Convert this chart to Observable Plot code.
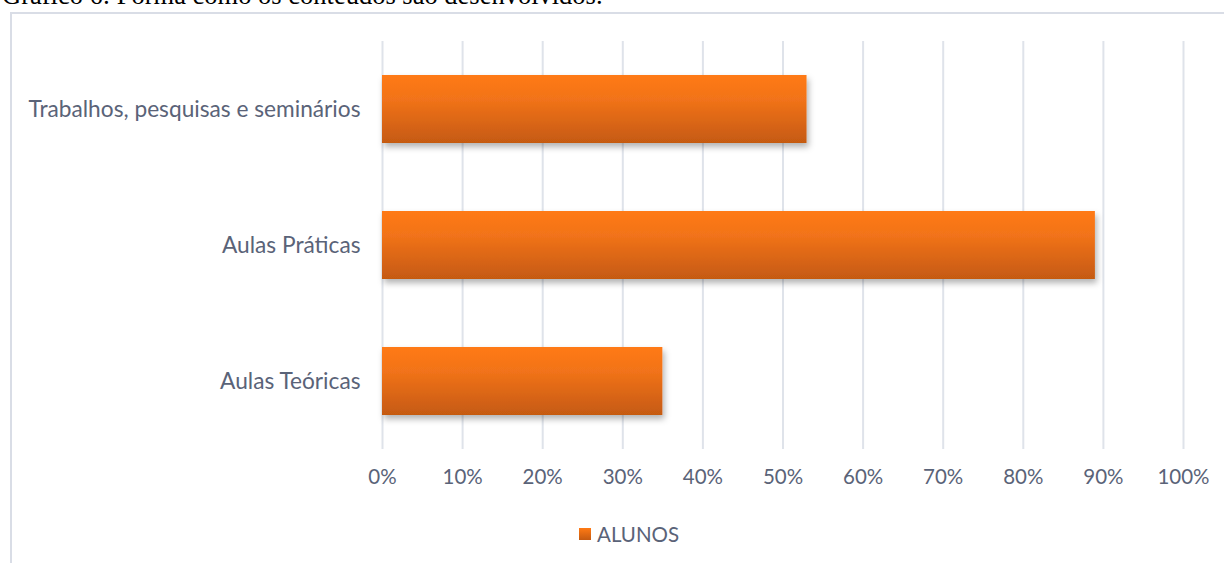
<!DOCTYPE html>
<html>
<head>
<meta charset="utf-8">
<script src="https://cdn.jsdelivr.net/npm/d3@7"></script>
<script src="https://cdn.jsdelivr.net/npm/@observablehq/plot@0.6"></script>
<style>
  html, body { margin: 0; padding: 0; background: #fff; overflow: hidden; }
  body { width: 1224px; height: 563px; position: relative; }
  #title { position: absolute; left: 2px; top: -18px; font-family: "Liberation Serif", "Times New Roman", serif; font-size: 26.5px; color: #000; white-space: nowrap; line-height: 27px; }
  #frame { position: absolute; left: 10px; top: 12px; width: 1230px; height: 600px; border-left: 2px solid #d9dde6; border-top: 2px solid #d9dde6; }
  #chart { position: absolute; left: 0; top: 0; }
  #legend { position: absolute; left: 567px; top: 508px; font-family: Lato, "Open Sans", sans-serif; font-size: 20.5px; color: #5a6378; display: flex; align-items: center; gap: 6px; }
  #legend .sw { width: 12px; height: 12px; background: linear-gradient(#ff7a14, #c55a11); }
</style>
</head>
<body>
<div id="title">Gráfico 6: Forma como os conteúdos são desenvolvidos.</div>
<div id="frame">
  <div id="chart"></div>
  <div id="legend"><span class="sw"></span><span id="legendLabel"></span></div>
</div>
<script>
const categories = ["Trabalhos, pesquisas e seminários", "Aulas Práticas", "Aulas Teóricas"];
const values = [0.53, 0.89, 0.35];
const xTicks = [0, 0.1, 0.2, 0.3, 0.4, 0.5, 0.6, 0.7, 0.8, 0.9, 1.0];
const seriesName = "ALUNOS";

const data = categories.map((c, i) => ({category: c, value: values[i]}));
const pct = d => Math.round(d * 100) + "%";

const plot = Plot.plot({
  width: 1212,
  height: 485,
  marginLeft: 370,
  marginRight: 41,
  marginTop: 27,
  marginBottom: 50,
  style: {fontFamily: "Lato, 'Open Sans', sans-serif", fontSize: "20.5px", color: "#5a6378", background: "transparent"},
  x: {domain: [0, 1], ticks: xTicks, tickFormat: pct, label: null},
  y: {domain: categories, paddingInner: 0.5, paddingOuter: 0.25, label: null},
  marks: [
    Plot.ruleX(xTicks, {stroke: "#dfe3ea", strokeWidth: 2, strokeOpacity: 1}),
    Plot.barX(data, {y: "category", x: "value", fill: "url(#barGrad)"}),
    Plot.axisX({ticks: xTicks, tickSize: 0, tickPadding: 20, tickFormat: pct, fill: "#5a6378", fontSize: 20.5}),
    Plot.axisY({tickSize: 0, tickPadding: 22, fill: "#5a6378", fontSize: 22.7})
  ]
});

const svgns = "http://www.w3.org/2000/svg";
const defs = document.createElementNS(svgns, "defs");
defs.innerHTML = `
  <linearGradient id="barGrad" x1="0" y1="0" x2="0" y2="1">
    <stop offset="0" stop-color="#ff7a14"/>
    <stop offset="0.35" stop-color="#f2731a"/>
    <stop offset="1" stop-color="#c55a11"/>
  </linearGradient>
  <filter id="shadow" x="-5%" y="-20%" width="115%" height="160%">
    <feDropShadow dx="2" dy="4" stdDeviation="3" flood-color="#000" flood-opacity="0.3"/>
  </filter>`;
plot.insertBefore(defs, plot.firstChild);
plot.querySelectorAll("g[aria-label='bar'] rect").forEach(r => r.setAttribute("filter", "url(#shadow)"));

document.getElementById("chart").appendChild(plot);
document.getElementById("legendLabel").textContent = seriesName;
</script>
</body>
</html>
